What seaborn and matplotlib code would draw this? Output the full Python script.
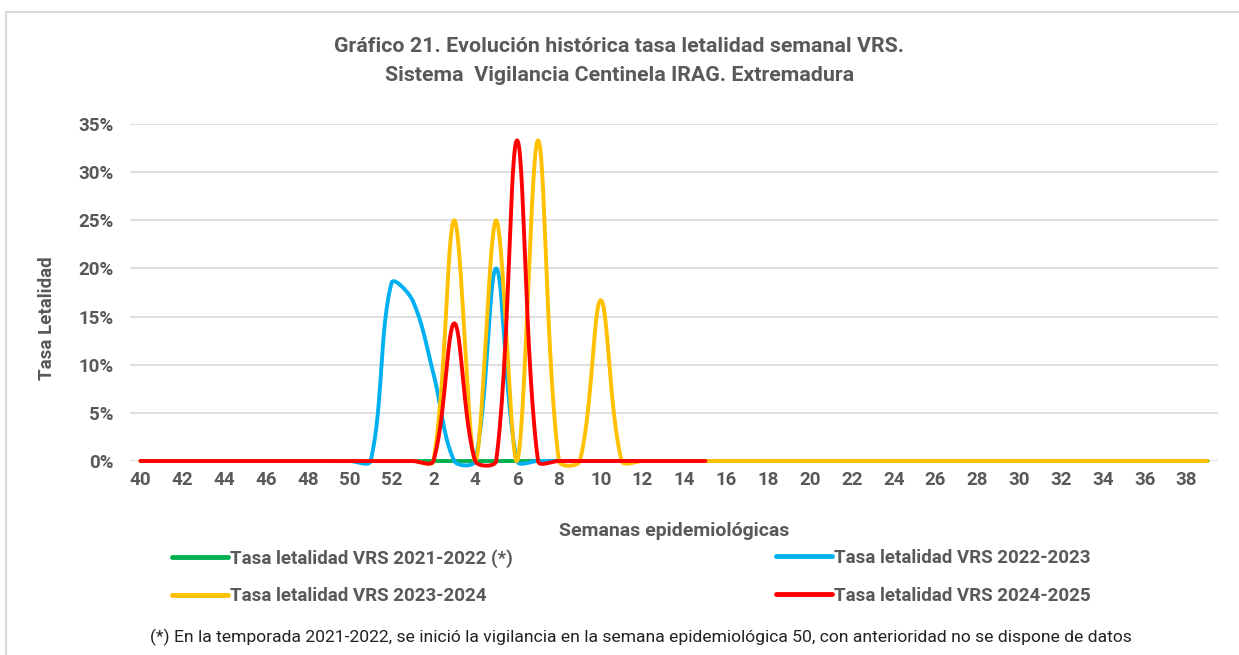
import numpy as np
import pandas as pd
import seaborn as sns
import matplotlib.pyplot as plt
from matplotlib.lines import Line2D

# Epidemiological weeks 40..52, then 1..39
weeks = list(range(40, 53)) + list(range(1, 40))
nan = np.nan

# Weekly case fatality rate (%) per season
s2122 = [nan] * 10 + [0] * 42  # surveillance started in week 50
s2223 = [0] * 11 + [0, 18.5, 16.7, 9.1, 0, 0, 20.0, 0, 0, 0] + [0] * 31
s2324 = [0] * 13 + [0, 0, 25.0, 0, 25.0, 0, 33.3, 0, 0, 16.7, 0] + [0] * 28
s2425 = [0] * 13 + [0, 0, 14.3, 0, 0, 33.3, 0] + [0] * 8 + [nan] * 24

labels = ["Tasa letalidad VRS 2021-2022 (*)", "Tasa letalidad VRS 2022-2023",
          "Tasa letalidad VRS 2023-2024", "Tasa letalidad VRS 2024-2025"]
series = [s2122, s2223, s2324, s2425]
colors = ["#00B050", "#00B0F0", "#FFC000", "#FF0000"]

title = ("Gráfico 21. Evolución histórica tasa letalidad semanal VRS.\n"
         "Sistema  Vigilancia Centinela IRAG. Extremadura")
footnote = ("(*) En la temporada 2021-2022, se inició la vigilancia en la semana "
            "epidemiológica 50, con anterioridad no se dispone de datos")

# pixels per week and per percentage point, used to mimic Excel's smoothing
SX, SY = 20.9, 9.63


def smooth(x, y, n=30):
    # Excel-like smoothed line: Bezier segments, tangents scaled by segment lengths
    x = np.asarray(x, float)
    y = np.asarray(y, float)
    ok = ~np.isnan(y)
    x, y = x[ok], y[ok]
    m = len(x)
    if m < 2:
        return list(x), list(y)
    P = np.column_stack([x * SX, y * SY])
    d = np.hypot(*np.diff(P, axis=0).T)
    t = np.linspace(0, 1, n, endpoint=False)[:, None]
    pts = []
    for i in range(m - 1):
        p0, p1 = P[i], P[i + 1]
        if i > 0:
            c1 = p0 + (p1 - P[i - 1]) * d[i] / (d[i - 1] + d[i]) / 3
        else:
            c1 = p0 + (p1 - p0) / 3
        if i + 2 < m:
            c2 = p1 - (P[i + 2] - p0) * d[i] / (d[i] + d[i + 1]) / 3
        else:
            c2 = p1 - (p1 - p0) / 3
        b = ((1 - t) ** 3) * p0 + 3 * ((1 - t) ** 2) * t * c1 + 3 * (1 - t) * t ** 2 * c2 + t ** 3 * p1
        pts.append(b)
    pts.append(P[-1][None, :])
    pts = np.vstack(pts)
    return pts[:, 0] / SX, pts[:, 1] / SY


pos = np.arange(len(weeks))
frames = []
for lab, s in zip(labels, series):
    xs, ys = smooth(pos, s)
    frames.append(pd.DataFrame({"x": xs, "y": np.asarray(ys) / 100, "serie": lab}))
df = pd.concat(frames, ignore_index=True)

sns.set_style("white")
plt.rcParams["font.family"] = ["Roboto", "DejaVu Sans"]
gray = "#595959"

fig = plt.figure(figsize=(12.39, 6.55), dpi=100)
ax = fig.add_axes([130 / 1239, 1 - 461 / 655, (1218 - 130) / 1239, (461 - 124) / 655])

sns.lineplot(data=df, x="x", y="y", hue="serie", palette=dict(zip(labels, colors)),
             hue_order=labels, sort=False, estimator=None, linewidth=2.8,
             legend=False, ax=ax)
for ln in ax.get_lines():
    ln.set_clip_on(False)
    ln.set_solid_capstyle("round")

ax.set_xlim(-0.5, len(weeks) - 0.5)
ax.set_ylim(0, 0.35)
ax.set_yticks(np.arange(0, 0.351, 0.05))
ax.set_yticklabels([f"{int(round(v * 100))}%" for v in np.arange(0, 0.351, 0.05)])
ax.set_xticks(pos[::2])
ax.set_xticklabels([str(w) for w in weeks[::2]])
ax.grid(axis="y", color="#D9D9D9", linewidth=1.2)
ax.set_axisbelow(True)
for sp in ax.spines.values():
    sp.set_visible(False)
ax.tick_params(axis="both", length=0, labelsize=13.5, labelcolor=gray)
ax.tick_params(axis="y", pad=12)
ax.tick_params(axis="x", pad=7)
for t in ax.get_xticklabels() + ax.get_yticklabels():
    t.set_fontweight("bold")

ax.set_xlabel("Semanas epidemiológicas", fontsize=14, fontweight="bold", color=gray, labelpad=24)
ax.set_ylabel("Tasa Letalidad", fontsize=13.5, fontweight="bold", color=gray)
ax.yaxis.set_label_coords(-0.068, 0.424)

fig.text(0.5, 1 - 61 / 655, title, ha="center", va="center", fontsize=15.4,
         fontweight="bold", color=gray, linespacing=1.65)

def handles(idx):
    return [Line2D([], [], color=colors[i], lw=3.5) for i in idx]

legkw = dict(frameon=False, handlelength=3.0, handletextpad=0.1,
             labelspacing=1.05, labelcolor=gray, prop={"weight": "bold", "size": 13.5})
leg1 = fig.legend(handles([0, 2]), [labels[0], labels[2]], loc="upper left",
                  bbox_to_anchor=(155 / 1239, 1 - 532 / 655), **legkw)
leg2 = fig.legend(handles([1, 3]), [labels[1], labels[3]], loc="upper left",
                  bbox_to_anchor=(759 / 1239, 1 - 532 / 655), **legkw)

fig.text(150 / 1239, 1 - 637 / 655, footnote, ha="left", va="center", fontsize=12.6, color="#222222")

# outer chart frame (cut at the right and bottom edges)
fig.add_artist(Line2D([6 / 1239, 1], [1 - 12 / 655] * 2, color="#D9D9D9", lw=1.5))
fig.add_artist(Line2D([6 / 1239] * 2, [0, 1 - 12 / 655], color="#D9D9D9", lw=1.5))

fig.savefig("out.png", dpi=100, facecolor="white")
